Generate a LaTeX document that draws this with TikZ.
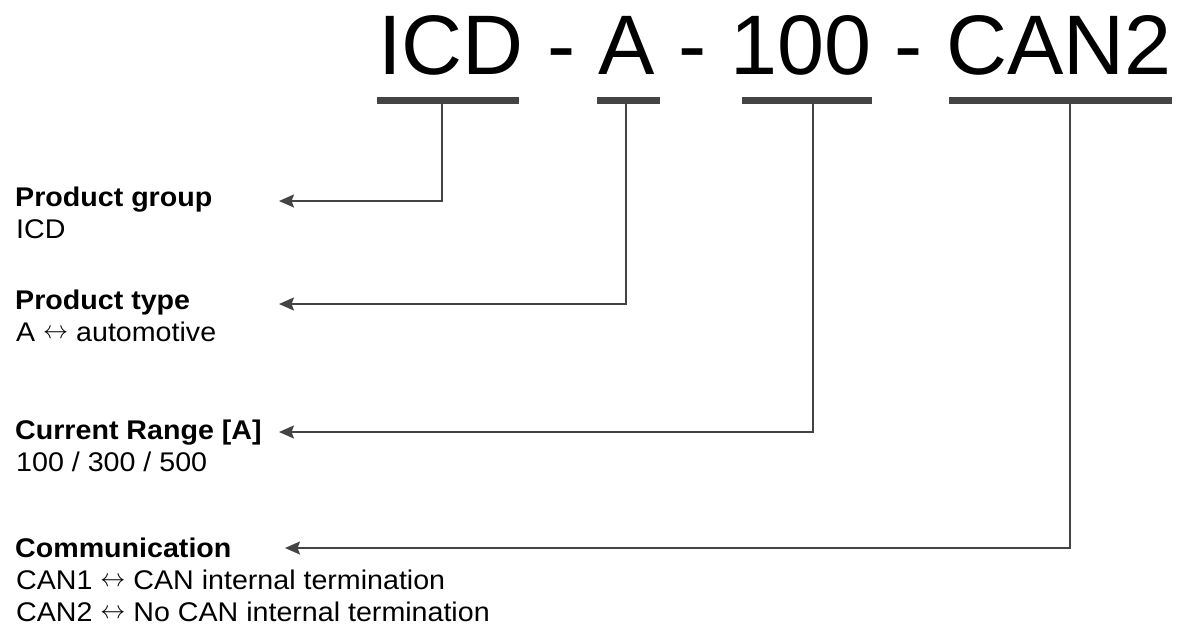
\documentclass[tikz,border=0pt]{standalone}
\usepackage{fontspec}
\usepackage{graphicx}
\setmainfont{Liberation Sans}
\newfontfamily\labfont[FakeStretch=1.06]{Liberation Sans}
\usetikzlibrary{arrows.meta}
\definecolor{lc}{HTML}{444444}
\newcommand{\lra}{ \raisebox{3pt}{\resizebox{25pt}{!}{$\leftrightarrow$}} }
\begin{document}
\begin{tikzpicture}[x=1pt,y=-1pt,
  bar/.style={fill=lc,draw=none,inner sep=0pt,minimum height=7.5pt,anchor=north west},
  conn/.style={draw=lc,line width=2.2pt,-{Stealth[length=15pt,width=13pt,inset=2.5pt]}},
  head/.style={anchor=base west,inner sep=0pt,font=\labfont\fontsize{27}{30}\selectfont\bfseries},
  sub/.style={anchor=base west,inner sep=0pt,font=\labfont\fontsize{27}{30}\selectfont},
  title/.style={anchor=base west,inner sep=0pt,font=\fontsize{84.5}{100}\selectfont}]
\useasboundingbox (0,0) rectangle (1179,633);
\node[title] (ttl) at (378,74) {ICD - A - 100 - CAN2};
% bars
\node[bar,minimum width=142pt] (b1) at (377,96.3) {};
\node[bar,minimum width=63pt] (b2) at (597,96.3) {};
\node[bar,minimum width=130pt] (b3) at (742,96.3) {};
\node[bar,minimum width=223pt] (b4) at (949,96.3) {};
% labels
\node[head] (h1) at (15,206) {Product group};
\node[sub] (s1) at (16,238) {ICD};
\node[head] (h2) at (15,309) {Product type};
\node[sub] (s2) at (16,341) {A\lra automotive};
\node[head] (h3) at (15,439) {Current Range [A]};
\node[sub] (s3) at (16,471) {100 / 300 / 500};
\node[head] (h4) at (15,557) {Communication};
\node[sub] (s4a) at (16,589) {CAN1\lra CAN internal termination};
\node[sub] (s4b) at (16,621) {CAN2\lra No CAN internal termination};
% connector points
\coordinate (v1) at (442,103);
\coordinate (v2) at (626,103);
\coordinate (v3) at (813,103);
\coordinate (v4) at (1070,103);
\coordinate (t1) at (279,201);
\coordinate (t2) at (279,304);
\coordinate (t3) at (279,432);
\coordinate (t4) at (285,548);
\draw[conn] (v1) |- (t1);
\draw[conn] (v2) |- (t2);
\draw[conn] (v3) |- (t3);
\draw[conn] (v4) |- (t4);
\end{tikzpicture}
\end{document}
